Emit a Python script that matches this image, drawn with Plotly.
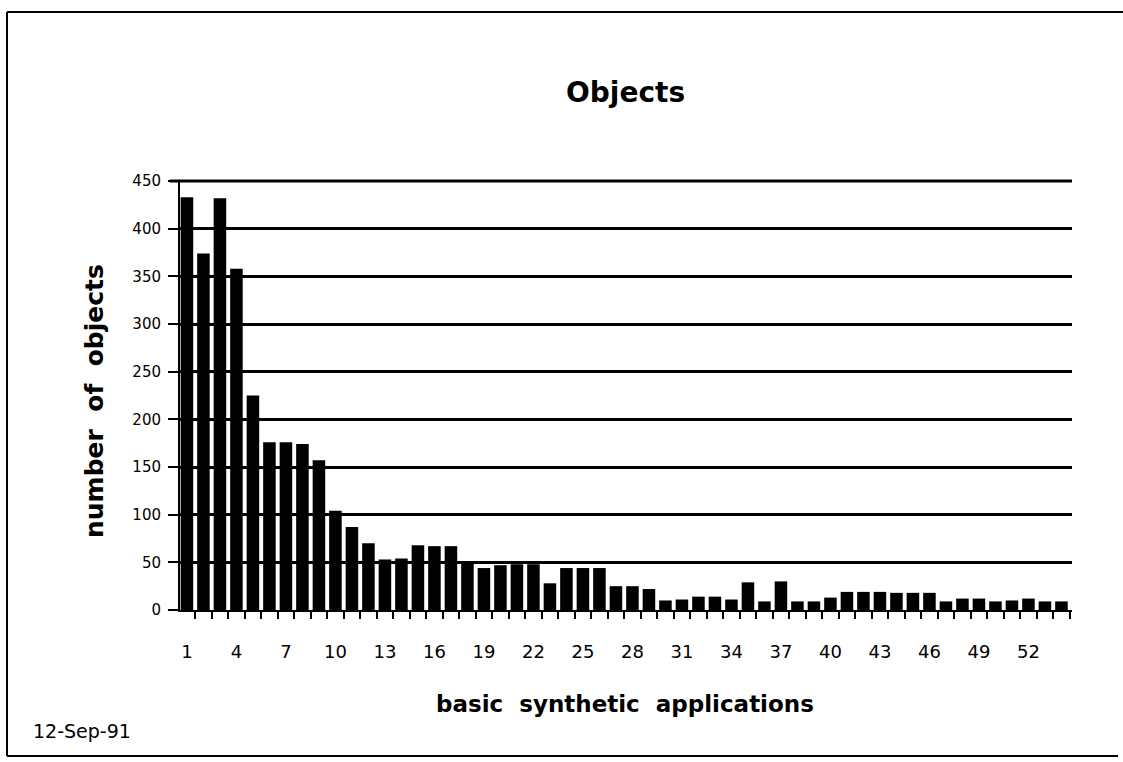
import plotly.graph_objects as go

categories = list(range(1, 55))
objects = [433, 374, 432, 358, 225, 176, 176, 174, 157, 104,
           87, 70, 53, 54, 68, 67, 67, 51, 44, 47,
           48, 48, 28, 44, 44, 44, 25, 25, 22, 10,
           11, 14, 14, 11, 29, 9, 30, 9, 9, 13,
           19, 19, 19, 18, 18, 18, 9, 12, 12, 9,
           10, 12, 9, 9]
x_tick_vals = list(range(1, 53, 3))
x_tick_text = [str(v) for v in x_tick_vals]
y_tick_vals = list(range(0, 451, 50))

FONT = "DejaVu Sans, Arial, sans-serif"
NB = "\u00a0"

fig = go.Figure()
fig.add_trace(go.Bar(x=categories, y=objects, width=0.76,
                     marker=dict(color="black", line=dict(width=0)),
                     hoverinfo="x+y"))

# plot area in pixels: x 180..1072, y 181..610
L, R, T, B = 180, 1072, 181, 610
W, H = 1123, 762
pw, ph = R - L, B - T

def px(x):
    return (x - L) / pw

def py(y):
    return (B - y) / ph

fig.update_layout(
    width=W, height=H,
    margin=dict(l=L, r=W - R, t=T, b=H - B, pad=0),
    paper_bgcolor="white", plot_bgcolor="white",
    showlegend=False,
    font=dict(family=FONT, color="black"),
)
fig.update_xaxes(
    range=[0.58, 54.64],
    tickmode="array", tickvals=x_tick_vals, ticktext=x_tick_text,
    ticks="", tickfont=dict(size=18, family=FONT, color="black"),
    ticklabelstandoff=24,
    minor=dict(tick0=0.5, dtick=1, ticks="outside", ticklen=7,
               tickwidth=2, tickcolor="black", showgrid=False),
    showgrid=False, zeroline=False,
    showline=True, linecolor="black", linewidth=2,
)
fig.update_yaxes(
    range=[0, 450],
    tickmode="array", tickvals=y_tick_vals,
    ticks="outside", ticklen=10, tickwidth=2, tickcolor="black",
    tickfont=dict(size=15, family=FONT, color="black"),
    ticklabelstandoff=4,
    showgrid=True, gridcolor="black", gridwidth=3,
    zeroline=False,
    showline=True, linecolor="black", linewidth=2,
)

sp2 = NB + " "
annotations = [
    dict(text="<b>Objects</b>", x=px(625), y=py(92), xref="paper", yref="paper",
         showarrow=False, font=dict(size=28, family=FONT, color="black"),
         xanchor="center", yanchor="middle"),
    dict(text="<b>number" + sp2 + "of" + sp2 + "objects</b>", x=px(94), y=py(401),
         xref="paper", yref="paper",
         showarrow=False, textangle=-90, font=dict(size=25, family=FONT, color="black"),
         xanchor="center", yanchor="middle"),
    dict(text="<b>basic" + sp2 + "synthetic" + sp2 + "applications</b>", x=px(625), y=py(704),
         xref="paper", yref="paper",
         showarrow=False, font=dict(size=23, family=FONT, color="black"),
         xanchor="center", yanchor="middle"),
    dict(text="12-Sep-91", x=px(31), y=py(731), xref="paper", yref="paper",
         showarrow=False, font=dict(size=19, family=FONT, color="black"),
         xanchor="left", yanchor="middle"),
]
fig.update_layout(annotations=annotations)

shapes = [
    # top gridline at 450 (drawn unclipped so it keeps full thickness)
    dict(type="line", xref="paper", yref="paper", x0=px(170), x1=1, y0=1, y1=1,
         line=dict(color="black", width=3)),
    # outer frame
    dict(type="line", xref="paper", yref="paper", x0=px(7), x1=px(7), y0=py(12), y1=py(756),
         line=dict(color="black", width=2)),
    dict(type="line", xref="paper", yref="paper", x0=px(7), x1=px(1123), y0=py(12), y1=py(12),
         line=dict(color="black", width=2)),
    dict(type="line", xref="paper", yref="paper", x0=px(7), x1=px(1118), y0=py(756), y1=py(756),
         line=dict(color="black", width=2)),
]
fig.update_layout(shapes=shapes)

fig.write_html("out.html",
               config={"displayModeBar": False},
               post_script="document.body.style.margin='0px';document.body.style.overflow='hidden';")
